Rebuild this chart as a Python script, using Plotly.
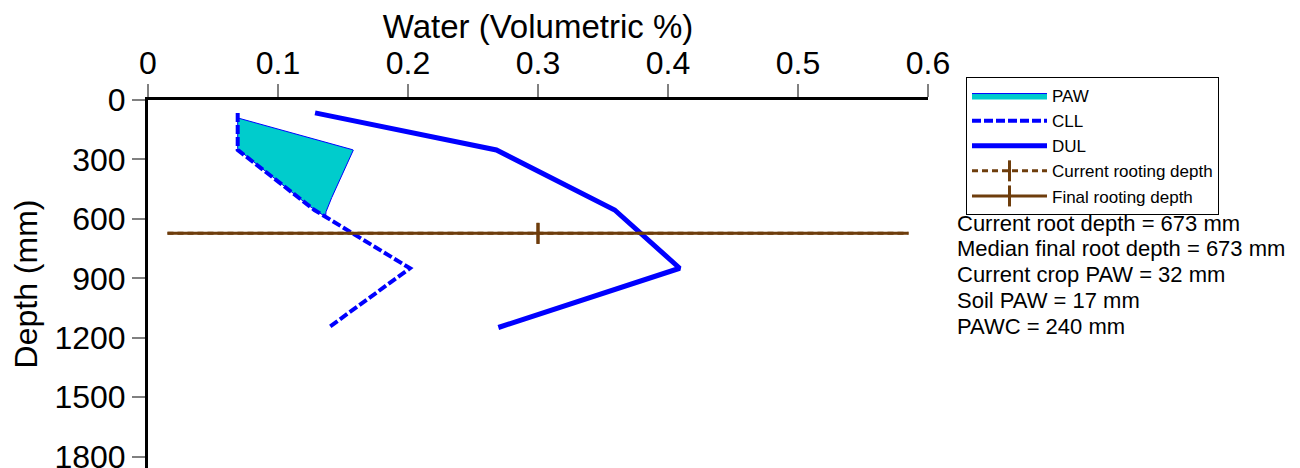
import numpy as np
import plotly.graph_objects as go

# soil layer midpoints (mm) and water contents (volumetric fraction)
depth = [65, 252, 555, 849, 1148]
cll = [0.069, 0.069, 0.128, 0.2015, 0.139]
dul = [0.1285, 0.268, 0.359, 0.409, 0.2695]
sw = [0.055, 0.158, 0.137, 0.135, 0.120]

root_depth = 673
root_x = [0.015, 0.585]
root_marker_x = [0.3]

x_ticks = [0, 0.1, 0.2, 0.3, 0.4, 0.5, 0.6]
y_ticks = [0, 300, 600, 900, 1200, 1500, 1800]

info_lines = [
    "Current root depth = 673 mm",
    "Median final root depth = 673 mm",
    "Current crop PAW = 32 mm",
    "Soil PAW = 17 mm",
    "PAWC = 240 mm",
]

BLUE = "#0000FF"
TEAL = "#00CCCC"
BROWN = "#6E3D0C"
FONT = "Arial, Liberation Sans, sans-serif"

# the page body has an 8px margin, so the figure is drawn 8px smaller
PAGE_OFF = 8
PLOT_L, PLOT_T, PLOT_R, PLOT_B = 148, 100, 928, 468  # plot area on the page
PW, PH = PLOT_R - PLOT_L, PLOT_B - PLOT_T


def px(x):
    return (x - PLOT_L) / PW


def py(y):
    return (PLOT_B - y) / PH


# PAW area: where current water sits above the crop lower limit
d = np.linspace(depth[0], depth[-1], 600)
sw_i = np.interp(d, depth, sw)
cll_i = np.interp(d, depth, cll)
mask = sw_i >= cll_i
paw_x = np.concatenate([sw_i[mask], cll_i[mask][::-1]])
paw_y = np.concatenate([d[mask], d[mask][::-1]])

fig = go.Figure()

fig.add_trace(go.Scatter(
    x=paw_x, y=paw_y, mode="lines", fill="toself",
    fillcolor=TEAL, line=dict(color=BLUE, width=1), name="PAW"))

fig.add_trace(go.Scatter(
    x=cll, y=depth, mode="lines",
    line=dict(color=BLUE, width=4, dash="9px,3px"), name="CLL"))

fig.add_trace(go.Scatter(
    x=dul, y=depth, mode="lines",
    line=dict(color=BLUE, width=5), name="DUL"))

# rooting depth lines (current and final coincide)
for name, dash in [("Current rooting depth", "6px,4px"), ("Final rooting depth", "solid")]:
    fig.add_trace(go.Scatter(
        x=root_x, y=[root_depth] * len(root_x), mode="lines",
        line=dict(color=BROWN, width=3, dash=dash),
        legendgroup=name, showlegend=False, hoverinfo="skip"))
    fig.add_trace(go.Scatter(
        x=root_marker_x, y=[root_depth] * len(root_marker_x), mode="lines+markers",
        line=dict(color=BROWN, width=3, dash=dash),
        marker=dict(symbol="line-ns", size=15, line=dict(color=BROWN, width=3)),
        legendgroup=name, name=name))

# info text to the right of the plot
for i, txt in enumerate(info_lines):
    fig.add_annotation(
        x=px(955), y=py(223 + i * 25.8), xref="paper", yref="paper",
        text=txt, showarrow=False, xanchor="left", yanchor="middle",
        font=dict(family=FONT, size=22, color="black"))

fig.update_layout(
    width=1300 - PAGE_OFF, height=468 - PAGE_OFF,
    margin=dict(l=PLOT_L - PAGE_OFF, r=1300 - PLOT_R, t=PLOT_T - PAGE_OFF,
                b=468 - PLOT_B, autoexpand=False),
    paper_bgcolor="white", plot_bgcolor="white",
    font=dict(family=FONT, color="black"),
    showlegend=True,
    legend=dict(
        x=px(966), y=py(77), xanchor="left", yanchor="top",
        bordercolor="black", borderwidth=1, bgcolor="white",
        font=dict(family=FONT, size=17, color="black"),
        itemwidth=75, tracegroupgap=0),
    xaxis=dict(
        side="top", range=[0, 0.6], tickvals=x_ticks,
        ticktext=[f"{v:g}" for v in x_ticks], automargin=False,
        showline=True, linecolor="black", linewidth=3,
        ticks="outside", ticklen=13, tickwidth=1.5, tickcolor="#808080",
        showgrid=False, zeroline=False, ticklabelstandoff=-3,
        tickfont=dict(family=FONT, size=32, color="black"),
        title=dict(text="Water (Volumetric %)", standoff=0,
                   font=dict(family=FONT, size=33, color="black"))),
    yaxis=dict(
        range=[1857, 0], tickvals=y_ticks, automargin=False,
        showline=True, linecolor="black", linewidth=3,
        ticks="outside", ticklen=13, tickwidth=1.5, tickcolor="#808080",
        showgrid=False, zeroline=False, ticklabeloverflow="allow",
        tickfont=dict(family=FONT, size=32, color="black"),
        title=dict(text="Depth (mm)", standoff=8,
                   font=dict(family=FONT, size=32, color="black"))),
)

fig.write_html("out.html")
